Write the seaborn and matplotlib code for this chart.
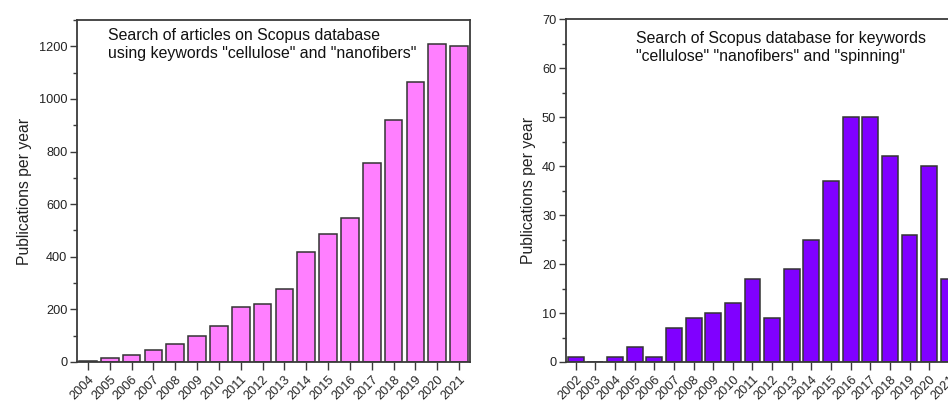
import matplotlib
matplotlib.use("Agg")
import matplotlib.pyplot as plt
import seaborn as sns
import pandas as pd
from matplotlib.ticker import MultipleLocator

years_left = [str(y) for y in range(2004, 2022)]
pubs_left = [3, 14, 27, 47, 70, 99, 137, 210, 219, 279, 420, 486, 546, 756, 921, 1064, 1207, 1200]

years_right = [str(y) for y in range(2002, 2022)]
pubs_right = [1, 0, 1, 3, 1, 7, 9, 10, 12, 17, 9, 19, 25, 37, 50, 50, 42, 26, 40, 17]

text_left = 'Search of articles on Scopus database\nusing keywords "cellulose" and "nanofibers"'
text_right = 'Search of Scopus database for keywords\n"cellulose" "nanofibers" and "spinning"'
ylabel = "Publications per year"

sns.set_theme(style="white")
plt.rcParams["font.family"] = ["Liberation Sans", "DejaVu Sans"]

fig = plt.figure(figsize=(9.48, 4.05), dpi=100)
ax1 = fig.add_axes([0.0812, 0.1062, 0.4146, 0.8444])
ax2 = fig.add_axes([0.5970, 0.1062, 0.4142, 0.8462])

edge = "#333333"
df1 = pd.DataFrame({"year": years_left, "pubs": pubs_left})
df2 = pd.DataFrame({"year": years_right, "pubs": pubs_right})

sns.barplot(data=df1, x="year", y="pubs", ax=ax1, color="#FF7FFF", saturation=1,
            edgecolor=edge, linewidth=1.1, width=0.81)
sns.barplot(data=df2, x="year", y="pubs", ax=ax2, color="#8000FF", saturation=1,
            edgecolor=edge, linewidth=1.1, width=0.81)

configs = [(ax1, len(years_left), 1300, 200, 100, text_left, 0.078, 0.978, 5),
           (ax2, len(years_right), 70, 10, 5, text_right, 0.178, 0.966, 4)]
for ax, n, ymax, major, minor, txt, tx, ty, lp in configs:
    ax.set_xlim(-0.5, n - 0.5)
    ax.set_ylim(0, ymax)
    ax.yaxis.set_major_locator(MultipleLocator(major))
    ax.yaxis.set_minor_locator(MultipleLocator(minor))
    ax.set_xlabel("")
    ax.set_ylabel(ylabel, fontsize=11.3, color="#222222", labelpad=lp)
    for s in ax.spines.values():
        s.set_visible(True)
        s.set_color("#3a3a3a")
        s.set_linewidth(1.3)
    ax.tick_params(axis="y", which="major", direction="out", length=5, width=1,
                   color="#3a3a3a", labelsize=9.2, labelcolor="#222222", left=True, pad=2)
    ax.tick_params(axis="y", which="minor", direction="out", length=3, width=1,
                   color="#3a3a3a", left=True)
    ax.tick_params(axis="x", which="major", direction="out", length=6, width=1,
                   color="#3a3a3a", labelsize=9.2, labelcolor="#222222", bottom=True, pad=2)
    for lab in ax.get_xticklabels():
        lab.set_rotation(45)
        lab.set_ha("right")
        lab.set_rotation_mode("anchor")
    ax.text(tx, ty, txt, transform=ax.transAxes, ha="left", va="top",
            fontsize=11.4, color="#111111", linespacing=1.25)

fig.savefig("out.png", dpi=100)
